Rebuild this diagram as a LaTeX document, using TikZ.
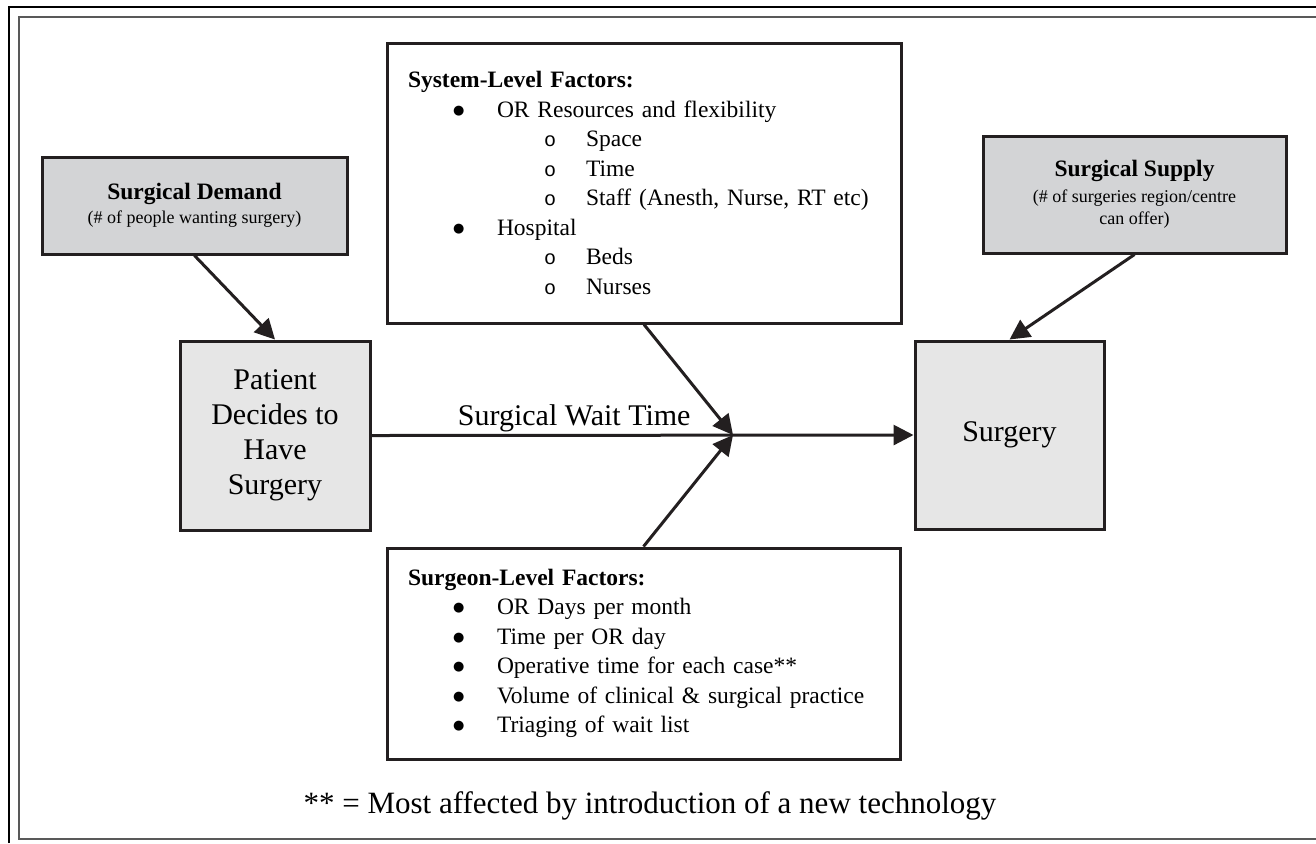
\documentclass[tikz,border=0pt]{standalone}
\usepackage{fontspec}
\setmainfont{Liberation Serif}
\setmonofont{Liberation Mono}
\newfontfamily\dotfont{DejaVu Sans}
\usetikzlibrary{arrows.meta}
\definecolor{boxgray}{HTML}{D3D4D6}
\definecolor{stagegray}{HTML}{E6E6E6}
\definecolor{inkblack}{HTML}{231F20}
\newcommand{\bulA}{\hspace*{22.5pt}\makebox[22pt][l]{\raisebox{1.6pt}{\dotfont\fontsize{6.5}{6.5}\selectfont ●}}}
\newcommand{\bulB}{\hspace*{68pt}\makebox[21pt][l]{\texttt{\fontsize{10}{10}\selectfont o}}}

\begin{document}
\begin{tikzpicture}[x=0.5pt,y=-0.5pt,
  frame/.style={draw=inkblack,line width=1.5pt},
  source/.style={frame,fill=boxgray,align=center,inner sep=0pt,font=\fontsize{9}{11}\selectfont},
  stage/.style={frame,fill=stagegray,align=center,inner sep=0pt,font=\fontsize{15}{17.5}\selectfont},
  factors/.style={frame,fill=white,align=left,inner xsep=10.5pt,inner ysep=0pt,font=\fontsize{11.75}{14.75}\selectfont},
  arr/.style={draw=inkblack,line width=1.5pt,-{Triangle[length=10pt,width=10pt]}}]
\useasboundingbox (0,0) rectangle (1316,843);

% page frame
\draw[line width=0.6pt] (9,843) -- (9,7) -- (1316,7);
\draw[line width=1pt,black!65] (1316,17) -- (19,17) -- (19,839) -- (1316,839);

% demand and supply
\node[source,minimum width=152.5pt,minimum height=48.5pt] (demand) at (194.5,205.5)
  {{\fontsize{11.75}{13}\selectfont\bfseries Surgical Demand}\\[1pt](\# of people wanting surgery)};
\node[source,minimum width=151.5pt,minimum height=58.5pt] (supply) at (1134.5,194.5)
  {{\fontsize{11.75}{13}\selectfont\bfseries Surgical Supply}\\[2pt](\# of surgeries region/centre\\can offer)};

% patient path
\node[stage,minimum width=95pt,minimum height=94.5pt] (patient) at (275,435.5)
  {Patient\\Decides to\\Have\\Surgery};
\node[stage,minimum width=94.5pt,minimum height=94pt] (surgery) at (1009.5,435) {Surgery};
\coordinate (meet) at (733,435);

% factor boxes
\node[factors,text width=236pt,minimum height=140pt] (system) at (644,183)
  {{\bfseries System-Level Factors:}\\
   \bulA OR Resources and flexibility\\
   \bulB Space\\
   \bulB Time\\
   \bulB Staff (Anesth, Nurse, RT etc)\\
   \bulA Hospital\\
   \bulB Beds\\
   \bulB Nurses};
\node[factors,text width=235.5pt,minimum height=105.5pt] (surgeon) at (643.5,653.5)
  {{\bfseries Surgeon-Level Factors:}\\
   \bulA OR Days per month\\
   \bulA Time per OR day\\
   \bulA Operative time for each case**\\
   \bulA Volume of clinical \& surgical practice\\
   \bulA Triaging of wait list};

\draw[arr] (demand.south) -- (patient.north);
\draw[arr] (supply.south) -- (surgery.north);
\draw[arr] (patient.east) -- node[pos=0.374,anchor=base,yshift=5pt,font=\fontsize{15}{17.5}\selectfont] (waitlbl) {Surgical Wait Time} (surgery.west);
\draw[arr] (system.south) -- (meet);
\draw[arr] (surgeon.north) -- (meet);

\node[anchor=base,font=\fontsize{15.5}{18}\selectfont] (note) at (650,813)
  {** = Most affected by introduction of a new technology};
\end{tikzpicture}
\end{document}
